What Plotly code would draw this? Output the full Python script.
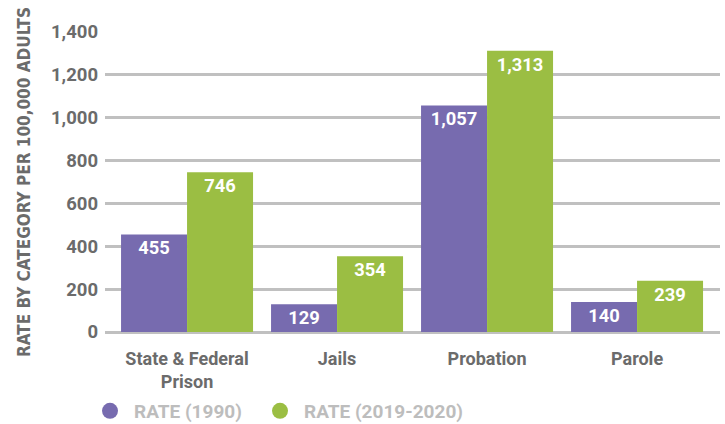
import plotly.graph_objects as go

categories = ["State & Federal<br>Prison", "Jails", "Probation", "Parole"]
rate_1990 = [455, 129, 1057, 140]
rate_2019 = [746, 354, 1313, 239]
series_names = ["RATE (1990)", "RATE (2019-2020)"]
tick_vals = [0, 200, 400, 600, 800, 1000, 1200, 1400]
tick_text = ["0", "200", "400", "600", "800", "1,000", "1,200", "1,400"]

PURPLE = "#776BAF"
GREEN = "#9BBE43"
GRAY = "#6B6B6B"

fig = go.Figure()
for vals, color in [(rate_1990, PURPLE), (rate_2019, GREEN)]:
    fig.add_trace(go.Bar(
        x=categories, y=vals, marker=dict(color=color, line=dict(width=0)),
        texttemplate="%{y:,}", textposition="inside", insidetextanchor="end",
        textangle=0,
        textfont=dict(family="Roboto", size=19.5, color="white", weight="bold"),
        showlegend=False, hoverinfo="skip",
    ))
for name, color, lg in zip(series_names, [PURPLE, GREEN], ["legend", "legend2"]):
    fig.add_trace(go.Scatter(
        x=[None], y=[None], mode="markers", name=name, legend=lg,
        marker=dict(symbol="circle", size=16, color=color),
    ))

legend_common = dict(
    orientation="h", xanchor="left", xref="container", yref="container",
    y=(424 - 392) / 424, yanchor="top",
    font=dict(family="Roboto", size=19, color="#BDBDBD", weight="bold"),
    itemwidth=38, bgcolor="rgba(0,0,0,0)",
)

fig.update_layout(
    width=725, height=424,
    margin=dict(l=105, r=5, t=32, b=92, autoexpand=False),
    paper_bgcolor="white", plot_bgcolor="white",
    barmode="group", bargap=0.12, bargroupgap=0,
    uniformtext=dict(minsize=10, mode="show"),
    legend=dict(x=86 / 725, **legend_common),
    legend2=dict(x=256 / 725, **legend_common),
    xaxis=dict(
        range=[-0.547, 3.553], showgrid=False, zeroline=False, showline=False,
        ticks="", ticklabelstandoff=14, automargin=False,
        tickfont=dict(family="Roboto", size=18, color=GRAY, weight="bold"),
    ),
    yaxis=dict(
        range=[0, 1400], tickvals=tick_vals, ticktext=tick_text,
        showgrid=True, gridcolor="#C0C0C0", gridwidth=2.5,
        zeroline=True, zerolinecolor="#C0C0C0", zerolinewidth=2.5,
        ticks="", ticklabelstandoff=6, automargin=False,
        tickfont=dict(family="Roboto", size=18.5, color=GRAY, weight="bold"),
        title=dict(
            text="RATE BY CATEGORY PER 100,000 ADULTS",
            font=dict(family="DejaVu Sans Condensed", size=17, color=GRAY, weight="bold"),
            standoff=16,
        ),
    ),
)

fig.write_html("out.html")
